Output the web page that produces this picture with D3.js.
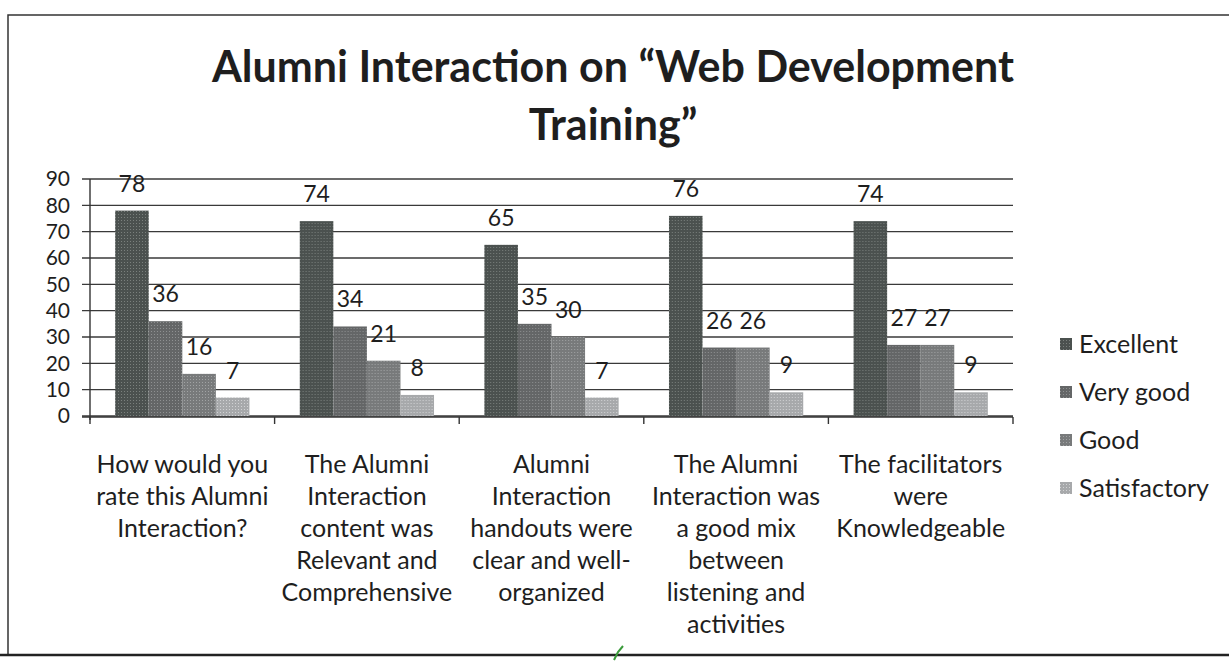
<!DOCTYPE html>
<html>
<head>
<meta charset="utf-8">
<script src="https://cdn.jsdelivr.net/npm/d3@7/dist/d3.min.js"></script>
<style>
  html, body { margin: 0; padding: 0; background: #ffffff; }
  svg { display: block; }
  text { font-family: Lato, "Open Sans", "DejaVu Sans", sans-serif; fill: #1e1e1e; }
</style>
</head>
<body>
<svg id="chart" width="1229" height="666"></svg>
<script>
// Survey questions (x categories), one line per array entry
const categories = [
  ["How would you", "rate this Alumni", "Interaction?"],
  ["The Alumni", "Interaction", "content was", "Relevant and", "Comprehensive"],
  ["Alumni", "Interaction", "handouts were", "clear and well-", "organized"],
  ["The Alumni", "Interaction was", "a good mix", "between", "listening and", "activities"],
  ["The facilitators", "were", "Knowledgeable"]
];
const seriesNames = ["Excellent", "Very good", "Good", "Satisfactory"];
const excellent    = [78, 74, 65, 76, 74];
const veryGood     = [36, 34, 35, 26, 27];
const good         = [16, 21, 30, 26, 27];
const satisfactory = [7, 8, 7, 9, 9];
const yTicks = [0, 10, 20, 30, 40, 50, 60, 70, 80, 90];
const titleLines = ["Alumni Interaction on \u201cWeb Development", "Training\u201d"];

const seriesValues = [excellent, veryGood, good, satisfactory];
const seriesColors = [
  { base: "#4b514f", dot: "#7a807d" },
  { base: "#646667", dot: "#8e9091" },
  { base: "#787a7b", dot: "#a1a3a4" },
  { base: "#a7a9ab", dot: "#d1d2d4" }
];

const svg = d3.select("#chart");

// halftone-like fills for the bars
const defs = svg.append("defs");
seriesColors.forEach((c, i) => {
  const p = defs.append("pattern")
    .attr("id", "fill" + i)
    .attr("width", 3).attr("height", 3)
    .attr("patternUnits", "userSpaceOnUse");
  p.append("rect").attr("width", 3).attr("height", 3).attr("fill", c.base);
  p.append("rect").attr("x", 1).attr("y", 1).attr("width", 1).attr("height", 1).attr("fill", c.dot);
});

// outer frame
svg.append("path")
  .attr("d", "M8,655 L8,15 L1229,15")
  .attr("fill", "none").attr("stroke", "#333").attr("stroke-width", 1.5);
svg.append("line")
  .attr("x1", 0).attr("x2", 1229).attr("y1", 655).attr("y2", 655)
  .attr("stroke", "#222").attr("stroke-width", 2.5);

// title
const title = svg.append("g");
titleLines.forEach((t, i) => {
  title.append("text")
    .attr("x", 613).attr("y", 82 + i * 58)
    .attr("text-anchor", "middle")
    .attr("font-weight", "bold")
    .attr("font-size", 43)
    .text(t);
});

const plot = { left: 90, right: 1013, top: 179, bottom: 416 };

const x0 = d3.scaleBand()
  .domain(d3.range(categories.length))
  .range([plot.left, plot.right]);

const x1 = d3.scaleBand()
  .domain(d3.range(seriesNames.length))
  .range([0, x0.bandwidth()])
  .paddingOuter(0.75)
  .paddingInner(0);

const y = d3.scaleLinear().domain([0, 90]).range([plot.bottom, plot.top]);

// gridlines with small left ticks
svg.append("g")
  .selectAll("line")
  .data(yTicks)
  .join("line")
  .attr("x1", plot.left - 8).attr("x2", plot.right)
  .attr("y1", d => y(d)).attr("y2", d => y(d))
  .attr("stroke", "#3a3a3a").attr("stroke-width", 1.4);

// y axis labels
svg.append("g")
  .selectAll("text")
  .data(yTicks)
  .join("text")
  .attr("x", 70).attr("y", d => y(d))
  .attr("dy", "0.35em")
  .attr("text-anchor", "end")
  .attr("font-size", 21)
  .text(d => d);

// y axis line
svg.append("line")
  .attr("x1", plot.left).attr("x2", plot.left)
  .attr("y1", plot.top).attr("y2", plot.bottom + 4)
  .attr("stroke", "#333").attr("stroke-width", 1.4);

// x axis with boundary ticks
const xb = svg.append("g");
xb.append("line")
  .attr("x1", plot.left - 8).attr("x2", plot.right)
  .attr("y1", plot.bottom + 1).attr("y2", plot.bottom + 1)
  .attr("stroke", "#333").attr("stroke-width", 1.6);
xb.selectAll("line.tk")
  .data(d3.range(categories.length + 1))
  .join("line")
  .attr("class", "tk")
  .attr("x1", i => plot.left + i * x0.step())
  .attr("x2", i => plot.left + i * x0.step())
  .attr("y1", plot.bottom + 1).attr("y2", plot.bottom + 8)
  .attr("stroke", "#333").attr("stroke-width", 1.4);

// bars
const groups = svg.append("g")
  .selectAll("g")
  .data(categories.map((c, i) => i))
  .join("g")
  .attr("transform", i => `translate(${x0(i)},0)`);

groups.selectAll("rect")
  .data(ci => seriesValues.map((vals, si) => ({ si, v: vals[ci] })))
  .join("rect")
  .attr("x", d => x1(d.si))
  .attr("width", x1.bandwidth())
  .attr("y", d => y(d.v))
  .attr("height", d => y(0) - y(d.v))
  .attr("fill", d => `url(#fill${d.si})`);

// value labels above each bar
groups.selectAll("text")
  .data(ci => seriesValues.map((vals, si) => ({ si, v: vals[ci] })))
  .join("text")
  .attr("x", d => x1(d.si) + x1.bandwidth() / 2)
  .attr("y", d => y(d.v) - 19)
  .attr("text-anchor", "middle")
  .attr("font-size", 23)
  .text(d => d.v);

// category labels
const cl = svg.append("g");
categories.forEach((lines, i) => {
  const cx = x0(i) + x0.bandwidth() / 2;
  const t = cl.append("text")
    .attr("x", cx)
    .attr("y", 473)
    .attr("text-anchor", "middle")
    .attr("font-size", 25);
  lines.forEach((ln, j) => {
    t.append("tspan")
      .attr("x", cx)
      .attr("dy", j === 0 ? 0 : 32)
      .text(ln);
  });
});

// legend
const legend = svg.append("g");
seriesNames.forEach((name, i) => {
  const base = 353 + i * 48;
  legend.append("rect")
    .attr("x", 1060).attr("y", base - 15)
    .attr("width", 12).attr("height", 12)
    .attr("fill", `url(#fill${i})`);
  legend.append("text")
    .attr("x", 1079).attr("y", base)
    .attr("font-size", 25)
    .text(name);
});

// small green tick mark near the bottom edge
svg.append("path")
  .attr("d", "M614,660 L618,652 L623,646")
  .attr("fill", "none").attr("stroke", "#3a9a3a").attr("stroke-width", 2);
</script>
</body>
</html>
